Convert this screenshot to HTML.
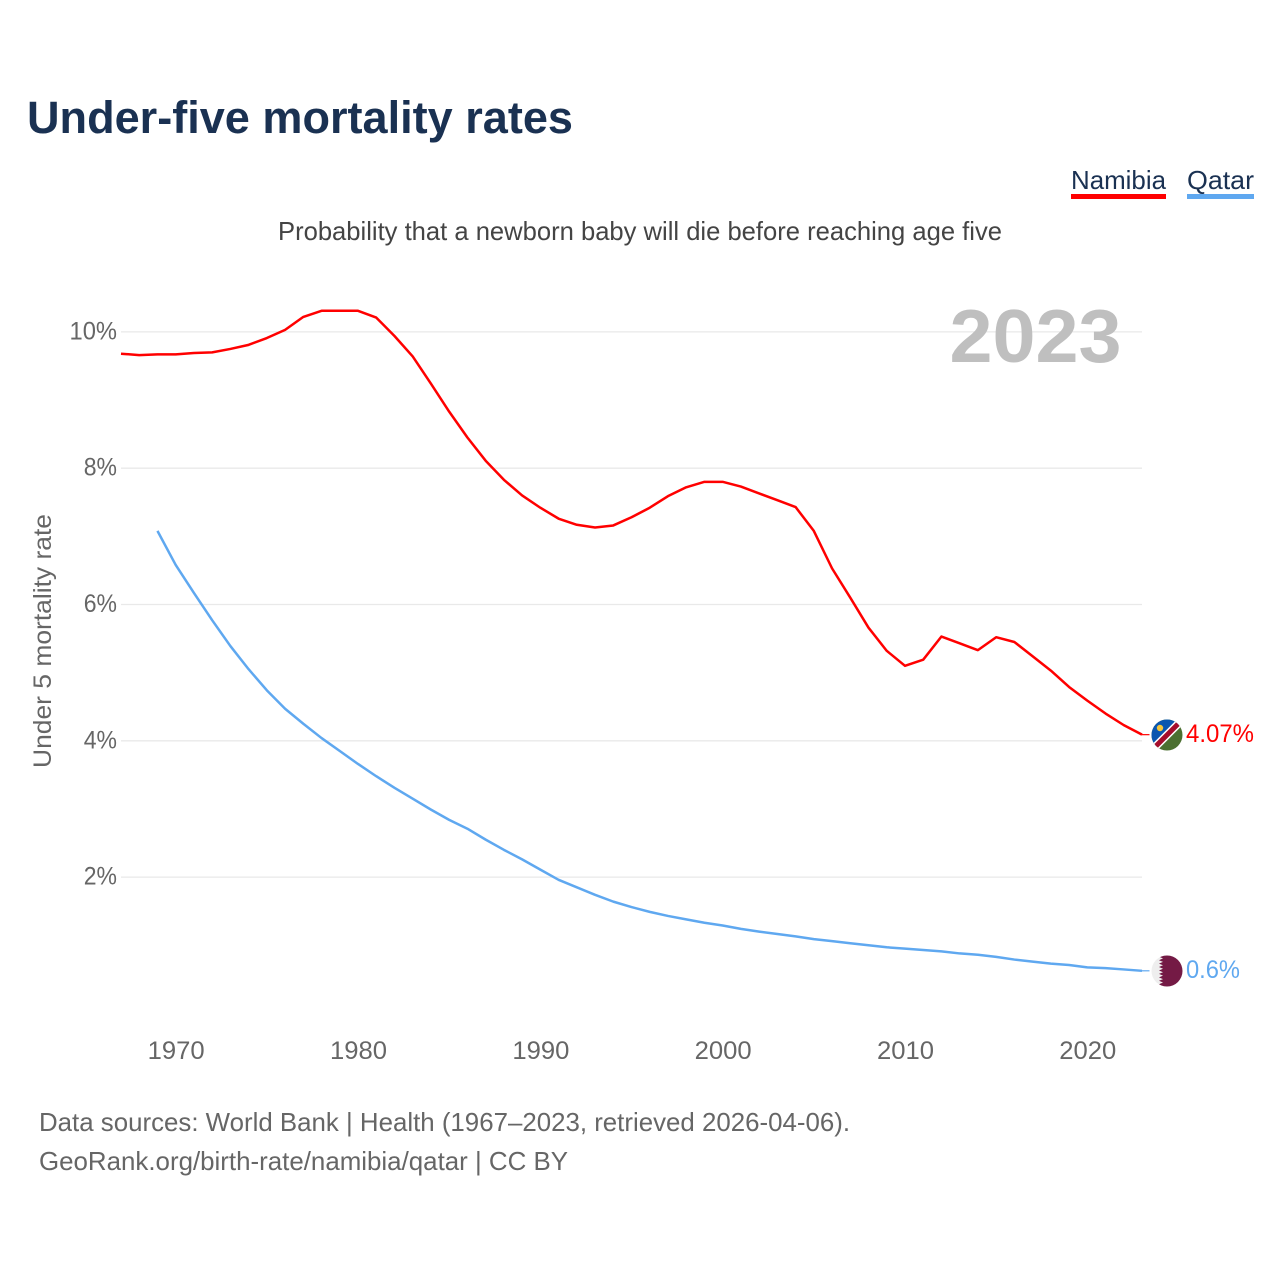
<!DOCTYPE html>
<html lang="en">
<head>
<meta charset="utf-8">
<title>Under-five mortality rates</title>
<style>
html,body{margin:0;padding:0;background:#fff;width:1280px;height:1280px;overflow:hidden}
svg{display:block}
text{font-family:"Liberation Sans",sans-serif}
</style>
</head>
<body>
<svg id="chart" xmlns="http://www.w3.org/2000/svg" width="1280" height="1280" viewBox="0 0 1280 1280">
  <defs>
    <clipPath id="clip-na"><circle cx="1167" cy="735" r="15.5"/></clipPath>
    <clipPath id="clip-qa"><circle cx="1167" cy="971" r="15.5"/></clipPath>
  </defs>
  <rect x="0" y="0" width="1280" height="1280" fill="#fff"/>
  <text x="27" y="133" font-size="45" font-weight="700" fill="#1a3152" textLength="546" lengthAdjust="spacingAndGlyphs">Under-five mortality rates</text>
  <text x="278" y="240" font-size="26" fill="#444" textLength="724" lengthAdjust="spacingAndGlyphs">Probability that a newborn baby will die before reaching age five</text>

  <g>
    <text x="1071" y="189" font-size="26" fill="#1a3152" textLength="95" lengthAdjust="spacingAndGlyphs">Namibia</text>
    <rect x="1071" y="194" width="95" height="5" fill="#ff0000"/>
  </g>
  <g>
    <text x="1187" y="189" font-size="26" fill="#1a3152" textLength="67" lengthAdjust="spacingAndGlyphs">Qatar</text>
    <rect x="1187" y="194" width="67" height="5" fill="#5fa8f0"/>
  </g>

  <g id="grid"></g>
  <g id="y-ticks"></g>
  <g id="x-ticks"></g>

  <text x="949.5" y="362" font-size="75" font-weight="700" fill="#bfbfbf" textLength="172" lengthAdjust="spacingAndGlyphs">2023</text>
  <text transform="translate(51,768) rotate(-90)" x="0" y="0" font-size="25" fill="#666" textLength="254" lengthAdjust="spacingAndGlyphs">Under 5 mortality rate</text>

  <g id="series"></g>

  <g clip-path="url(#clip-na)">
    <rect x="1150" y="718" width="34" height="34" fill="#4c7031"/>
    <polygon points="1150,718 1184,718 1150,752" fill="#0a56b0"/>
    <line x1="1147" y1="755" x2="1187" y2="715" stroke="#fff" stroke-width="8"/>
    <line x1="1147" y1="755" x2="1187" y2="715" stroke="#a50d2c" stroke-width="5"/>
    <circle cx="1160" cy="728" r="3.2" fill="#f5c63c"/>
  </g>
  <g clip-path="url(#clip-qa)">
    <rect x="1150" y="954" width="36" height="34" fill="#eeeeee"/>
    <polygon points="1163,955 1159,956.7 1163,958.4 1159,960.2 1163,961.9 1159,963.6 1163,965.3 1159,967 1163,968.8 1159,970.5 1163,972.2 1159,973.9 1163,975.6 1159,977.4 1163,979.1 1159,980.8 1163,982.5 1159,984.2 1163,987 1186,987 1186,955" fill="#741a45"/>
  </g>

  <text x="1186" y="742" font-size="25" fill="#ff0000" textLength="68" lengthAdjust="spacingAndGlyphs">4.07%</text>
  <text x="1186" y="978" font-size="25" fill="#5fa8f0" textLength="54" lengthAdjust="spacingAndGlyphs">0.6%</text>

  <text x="39" y="1131" font-size="26" fill="#666" textLength="811" lengthAdjust="spacingAndGlyphs">Data sources: World Bank | Health (1967–2023, retrieved 2026-04-06).</text>
  <text x="39" y="1170" font-size="26" fill="#666" textLength="529" lengthAdjust="spacingAndGlyphs">GeoRank.org/birth-rate/namibia/qatar | CC BY</text>
</svg>
<script>
var namibiaStartYear = 1967;
var namibiaValues = [9.68,9.66,9.67,9.67,9.69,9.70,9.75,9.81,9.91,10.03,10.22,10.31,10.31,10.31,10.21,9.94,9.64,9.24,8.83,8.45,8.11,7.83,7.60,7.42,7.26,7.17,7.13,7.16,7.28,7.42,7.59,7.72,7.80,7.80,7.73,7.63,7.53,7.43,7.08,6.53,6.10,5.66,5.32,5.10,5.19,5.53,5.43,5.33,5.52,5.45,5.24,5.03,4.79,4.59,4.40,4.23,4.09];
var qatarStartYear = 1969;
var qatarValues = [7.08,6.58,6.17,5.77,5.39,5.05,4.74,4.47,4.25,4.04,3.85,3.66,3.48,3.31,3.15,2.99,2.84,2.71,2.55,2.40,2.26,2.11,1.96,1.85,1.74,1.64,1.56,1.49,1.43,1.38,1.33,1.29,1.24,1.20,1.165,1.13,1.09,1.06,1.03,1.00,0.97,0.95,0.93,0.91,0.88,0.86,0.83,0.79,0.76,0.73,0.71,0.675,0.665,0.645,0.625];
var yTickValues = [2,4,6,8,10];
var xTickYears = [1970,1980,1990,2000,2010,2020];

var NS = 'http://www.w3.org/2000/svg';
function xScale(year){ return 121 + (year - 1967) * (1142 - 121) / (2023 - 1967); }
function yScale(v){ return 1013.4 - v * 68.15; }
function make(tag, attrs, parent){
  var el = document.createElementNS(NS, tag);
  for (var k in attrs) el.setAttribute(k, attrs[k]);
  parent.appendChild(el);
  return el;
}
var gridG = document.getElementById('grid');
var yG = document.getElementById('y-ticks');
var xG = document.getElementById('x-ticks');
var seriesG = document.getElementById('series');

yTickValues.forEach(function(v){
  var line = make('line', {x1:121, x2:1142, y1:yScale(v), y2:yScale(v), stroke:'#e9e9e9', 'stroke-width':1.3}, gridG);
  
  
  var label = String(v) + '%';
  var t = make('text', {x:117, y:yScale(v) + 7.5, 'text-anchor':'end', 'font-size':25, fill:'#666',
    textLength:(14.25 * String(v).length + 19), lengthAdjust:'spacingAndGlyphs'}, yG);
  
  
  t.textContent = label;
});
xTickYears.forEach(function(y){
  var t = make('text', {x:xScale(y) + 0.5, y:1059, 'text-anchor':'middle', 'font-size':25, fill:'#666',
    textLength:57, lengthAdjust:'spacingAndGlyphs'}, xG);
  
  
  t.textContent = String(y);
});
function drawSeries(values, startYear, color){
  var pts = values.map(function(v, i){ return xScale(startYear + i).toFixed(2) + ',' + yScale(v).toFixed(2); }).join(' ');
  var last = values[values.length - 1];
  var lineEl = make('polyline', {points:pts, fill:'none', stroke:color, 'stroke-width':2.5, 'stroke-linejoin':'round'}, seriesG);
  
  
  var conn = make('line', {x1:xScale(2023), x2:1149.5, y1:yScale(last), y2:yScale(last), stroke:color, 'stroke-width':1.2}, seriesG);
  
  
}
drawSeries(namibiaValues, namibiaStartYear, '#ff0000');
drawSeries(qatarValues, qatarStartYear, '#5fa8f0');
</script>
</body>
</html>
